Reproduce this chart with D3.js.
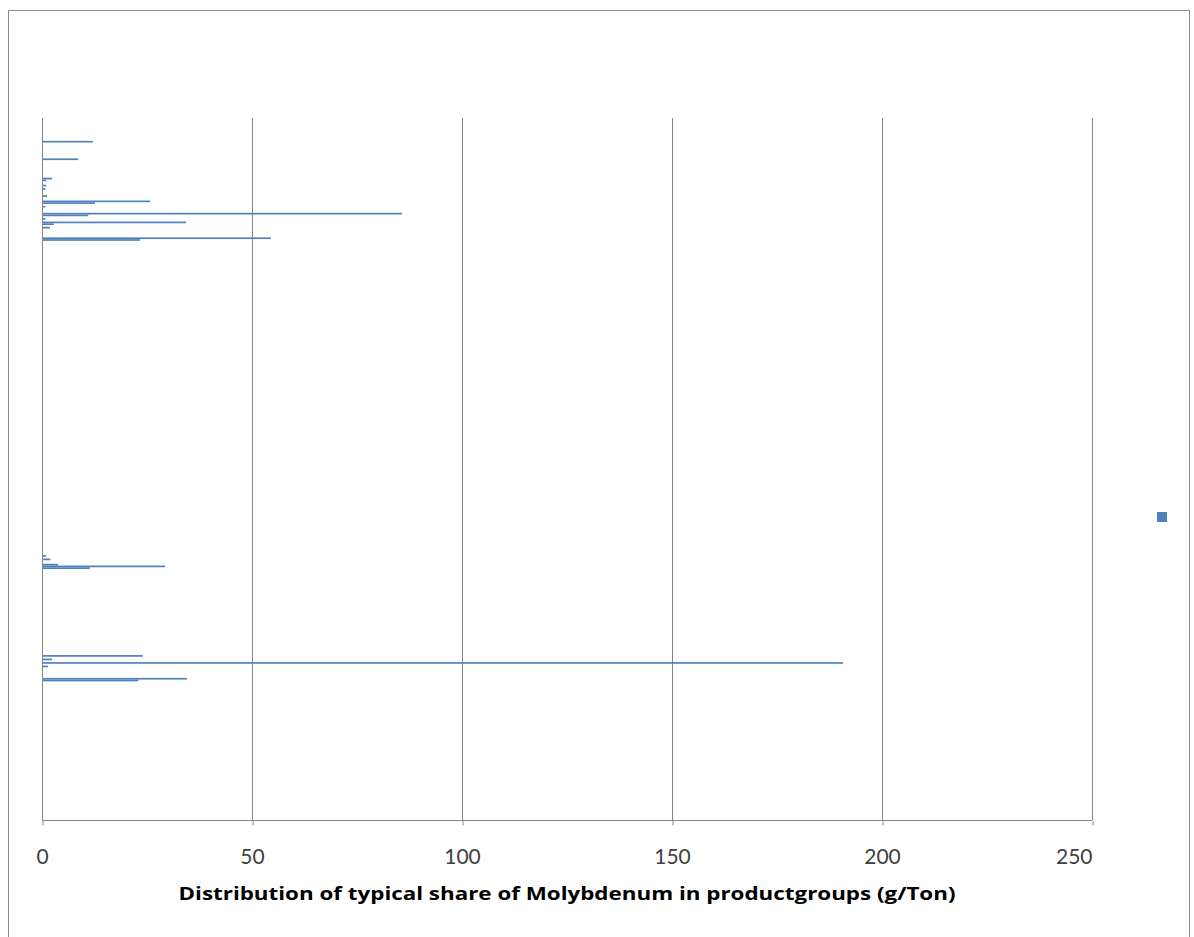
<!DOCTYPE html>
<html>
<head>
<meta charset="utf-8">
<script src="https://cdn.jsdelivr.net/npm/d3@7"></script>
<style>
  html, body { margin: 0; padding: 0; background: #fff; }
  svg { display: block; }
</style>
</head>
<body>
<svg id="chart" width="1194" height="937"></svg>
<script>
// Row positions (category slots, top to bottom) and values in g/Ton
const rows   = [13, 23, 34, 35, 38, 40, 44, 47, 48, 50, 54, 55, 57, 59, 60, 62, 68, 69,
                249, 251, 254, 255, 256,
                306, 308, 310, 312, 319, 320];
const values = [12.1, 8.6, 2.4, 1.0, 1.0, 0.8, 1.2, 25.7, 12.6, 0.8, 85.7, 11.0, 0.8, 34.3, 2.8, 1.9, 54.5, 23.3,
                1.0, 2.0, 3.8, 29.3, 11.4,
                24.0, 2.4, 190.7, 1.4, 34.5, 22.9];
const rowCount = 400;
const xTicks = [0, 50, 100, 150, 200, 250];
const axisTitle = "Distribution of typical share of Molybdenum in productgroups (g/Ton)";

const data = rows.map((r, i) => ({ row: r, value: values[i] }));

const svg = d3.select("#chart");

// outer chart border
svg.append("rect")
  .attr("x", 8.5).attr("y", 10.5)
  .attr("width", 1181).attr("height", 940)
  .attr("fill", "#fff").attr("stroke", "#8c8c8c").attr("stroke-width", 1);

const plot = { left: 42, right: 1092, top: 118, bottom: 820 };

const x = d3.scaleLinear().domain([0, 250]).range([plot.left, plot.right]);
const y = d3.scaleLinear().domain([0, rowCount]).range([plot.top, plot.bottom]);
const step = y(1) - y(0);
const barH = 1.7;

// vertical gridlines
svg.append("g")
  .selectAll("line")
  .data(xTicks)
  .join("line")
  .attr("x1", d => Math.round(x(d)) + 0.5).attr("x2", d => Math.round(x(d)) + 0.5)
  .attr("y1", plot.top).attr("y2", plot.bottom)
  .attr("stroke", "#868686").attr("stroke-width", 1);

// bars
svg.append("g")
  .selectAll("rect")
  .data(data)
  .join("rect")
  .attr("x", x(0) + 1)
  .attr("y", d => y(d.row) + (step - barH) / 2)
  .attr("width", d => Math.max(0, x(d.value) - x(0) - 1))
  .attr("height", barH)
  .attr("fill", "#4f81bd");

// bottom axis
const xAxis = d3.axisBottom(x).tickValues(xTicks).tickSize(5).tickPadding(24).tickFormat(d3.format("d"));
const gAxis = svg.append("g")
  .attr("transform", `translate(0,${plot.bottom + 0.5})`)
  .call(xAxis);
gAxis.select(".domain").attr("stroke", "#868686").attr("d", `M${plot.left},0H${plot.right}`);
gAxis.selectAll(".tick line").attr("stroke", "#868686")
  .attr("transform", "translate(0.5,0)");
gAxis.selectAll(".tick text")
  .attr("font-family", "Lato, 'Open Sans', sans-serif")
  .attr("font-size", 21)
  .attr("fill", "#404040");
// last label is pulled inside the plot edge, as in the original
gAxis.selectAll(".tick text").filter(d => d === 250)
  .attr("text-anchor", "end").attr("x", 0);

// axis title
svg.append("text")
  .attr("x", 567).attr("y", 900)
  .attr("text-anchor", "middle")
  .attr("font-family", "'Open Sans', Lato, sans-serif")
  .attr("font-weight", "bold")
  .attr("font-size", 18.5)
  .attr("textLength", 777)
  .attr("lengthAdjust", "spacingAndGlyphs")
  .attr("fill", "#000")
  .text(axisTitle);

// legend marker (no label)
svg.append("rect")
  .attr("x", 1157).attr("y", 512)
  .attr("width", 10).attr("height", 10)
  .attr("fill", "#4f81bd");
</script>
</body>
</html>
